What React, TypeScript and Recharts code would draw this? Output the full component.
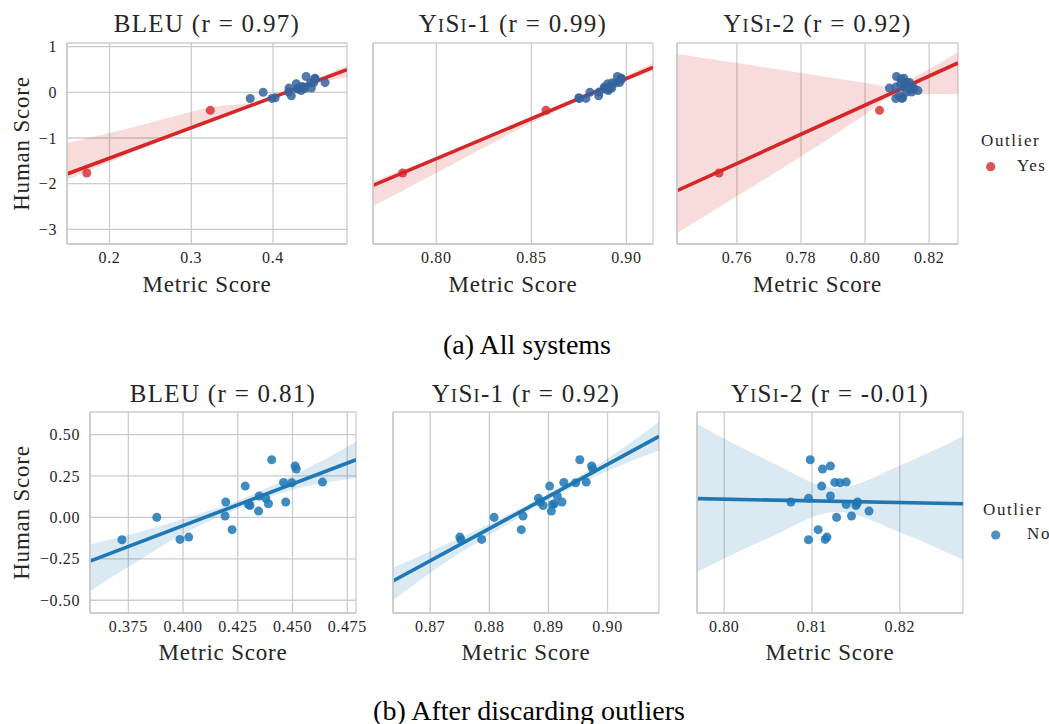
import React from 'react';
import { ComposedChart, XAxis, YAxis, CartesianGrid, Area, Line, Scatter } from 'recharts';

// ---------- data ----------
const human = [-0.135, 0.0, -0.133, -0.119, 0.008, 0.093, -0.074, 0.189, 0.078, 0.072, 0.038, 0.129, 0.115, 0.082, 0.348, 0.211, 0.093, 0.209, 0.31, 0.292, 0.213];
const bleu = [0.3721, 0.388, 0.3986, 0.4026, 0.4192, 0.4195, 0.4224, 0.4284, 0.4299, 0.4306, 0.4345, 0.4348, 0.4378, 0.439, 0.4405, 0.4459, 0.4469, 0.4497, 0.4512, 0.4517, 0.4637];
const yisi1 = [0.8752, 0.8808, 0.8787, 0.875, 0.8857, 0.8886, 0.8854, 0.8902, 0.8907, 0.8891, 0.8905, 0.8915, 0.8883, 0.891, 0.8953, 0.8926, 0.8923, 0.8946, 0.8973, 0.8975, 0.8964];
const yisi2 = [0.8096, 0.8128, 0.8115, 0.8117, 0.8145, 0.8076, 0.8107, 0.8111, 0.8139, 0.815, 0.8165, 0.8121, 0.8096, 0.8151, 0.8098, 0.8126, 0.8152, 0.8132, 0.8121, 0.8112, 0.8139];

const outlierHuman = [-1.766, -0.394];
const outlierBleu = [0.1722, 0.3233];
const outlierYisi1 = [0.7823, 0.8577];
const outlierYisi2 = [0.7544, 0.8045];

// regression fits (value at left / right edge of the axis) and confidence bands
const bandBleuAllX = [0.148, 0.2367, 0.3265, 0.3878, 0.4327, 0.4905];
const bandBleuAllLo = [-1.912, -1.255, -0.62, -0.204, 0.095, 0.336];
const bandBleuAllHi = [-1.109, -0.73, -0.321, -0.182, 0.139, 0.584];
const fitBleuAll = [-1.788, 0.496];

const bandYisi1AllX = [0.7667, 0.8, 0.85, 0.8881, 0.914];
const bandYisi1AllLo = [-2.496, -1.766, -0.672, 0.058, 0.46];
const bandYisi1AllHi = [-1.949, -1.416, -0.55, 0.131, 0.642];
const fitYisi1All = [-2.036, 0.547];

const bandYisi2AllX = [0.7413, 0.76, 0.7801, 0.8, 0.8088, 0.8171, 0.829];
const bandYisi2AllLo = [-3.08, -2.277, -1.401, -0.489, -0.088, -0.044, -0.036];
const bandYisi2AllHi = [0.839, 0.642, 0.423, 0.204, 0.117, 0.4, 0.876];
const fitYisi2All = [-2.153, 0.642];

const bandBleuX = [0.3575, 0.3773, 0.4002, 0.4261, 0.4489, 0.479];
const bandBleuLo = [-0.445, -0.28, -0.099, 0.056, 0.163, 0.239];
const bandBleuHi = [-0.163, -0.099, -0.008, 0.107, 0.243, 0.455];
const fitBleu = [-0.264, 0.348];

const bandYisi1X = [0.8637, 0.8722, 0.8807, 0.8897, 0.8987, 0.9087];
const bandYisi1Lo = [-0.501, -0.28, -0.093, 0.099, 0.26, 0.404];
const bandYisi1Hi = [-0.304, -0.169, -0.028, 0.137, 0.324, 0.575];
const fitYisi1 = [-0.384, 0.489];

const bandYisi2X = [0.7969, 0.8052, 0.8128, 0.8204, 0.8272];
const bandYisi2Lo = [-0.33, -0.121, 0.032, -0.099, -0.256];
const bandYisi2Hi = [0.565, 0.338, 0.179, 0.322, 0.489];
const fitYisi2 = [0.113, 0.082];

// ticks
const topYTicks = [-3, -2, -1, 0, 1];
const botYTicks = [-0.5, -0.25, 0, 0.25, 0.5];
const xTicksBleuAll = [0.2, 0.3, 0.4];
const xTicksYisi1All = [0.8, 0.85, 0.9];
const xTicksYisi2All = [0.76, 0.78, 0.8, 0.82];
const xTicksBleu = [0.375, 0.4, 0.425, 0.45, 0.475];
const xTicksYisi1 = [0.87, 0.88, 0.89, 0.9];
const xTicksYisi2 = [0.8, 0.81, 0.82];

// titles
const metricNames = ['BLEU', 'YiSi-1', 'YiSi-2'];
const rAll = ['0.97', '0.99', '0.92'];
const rClean = ['0.81', '0.92', '-0.01'];

// ---------- styling ----------
const FONT = '"Liberation Serif", "Times New Roman", serif';
const TEXT = '#262626';
const GRID = '#cccccc';
const BLUE = '#1f77b4';
const DARKBLUE = '#33649f';
const RED = '#d62728';

const minus = (s: string) => s.replace('-', '\u2212');

type Box = { l: number; r: number; t: number; b: number };

function Panel(props: {
  box: Box;
  xDomain: [number, number];
  yDomain: [number, number];
  xTicks: number[];
  xDec: number;
  yTicks: number[];
  yDec: number;
  showY: boolean;
  bandX: number[];
  bandLo: number[];
  bandHi: number[];
  fit: number[];
  color: string;
  pointColor: string;
  xs: number[];
  ys: number[];
  oxs?: number[];
  oys?: number[];
}) {
  const { box } = props;
  const ML = 80, MT = 10, MR = 12, XH = 50;
  const w = box.r - box.l + ML + MR;
  const h = box.b - box.t + MT + XH;
  const n = props.bandX.length;
  const rows = props.bandX.map((x, i) => ({
    x,
    range: [props.bandLo[i], props.bandHi[i]],
    fit: i === 0 ? props.fit[0] : i === n - 1 ? props.fit[1] : undefined,
  }));
  const pts = props.xs.map((x, i) => ({ x, y: props.ys[i] }));
  const opts = props.oxs ? props.oxs.map((x, i) => ({ x, y: (props.oys as number[])[i] })) : null;
  const tickStyle = { fontFamily: FONT, fontSize: 16, fill: TEXT, letterSpacing: 0.6 };
  return (
    <div style={{ position: 'absolute', left: box.l - ML, top: box.t - MT }}>
      <ComposedChart width={w} height={h} data={rows} margin={{ top: MT, right: MR, left: 0, bottom: 0 }}>
        <CartesianGrid stroke={GRID} strokeWidth={1.3} />
        <XAxis
          type="number"
          dataKey="x"
          domain={props.xDomain}
          allowDataOverflow
          ticks={props.xTicks}
          interval={0}
          tickFormatter={(v: number) => v.toFixed(props.xDec)}
          tickLine={false}
          tickSize={0}
          tickMargin={8}
          height={XH}
          axisLine={{ stroke: GRID, strokeWidth: 1.8 }}
          tick={tickStyle}
        />
        <YAxis
          type="number"
          domain={props.yDomain}
          allowDataOverflow
          ticks={props.yTicks}
          interval={0}
          tickFormatter={(v: number) => minus(v.toFixed(props.yDec))}
          tickLine={false}
          tickSize={0}
          tickMargin={10}
          width={ML}
          axisLine={{ stroke: GRID, strokeWidth: 1.8 }}
          tick={props.showY ? tickStyle : false}
        />
        <Area
          dataKey="range"
          type="monotone"
          stroke="none"
          fill={props.color}
          fillOpacity={0.16}
          isAnimationActive={false}
        />
        <Line
          dataKey="fit"
          connectNulls
          stroke={props.color}
          strokeWidth={3.6}
          dot={false}
          isAnimationActive={false}
        />
        <Scatter data={pts} dataKey="y" fill={props.pointColor} fillOpacity={0.85} isAnimationActive={false} />
        {opts && <Scatter data={opts} dataKey="y" fill={RED} fillOpacity={0.8} isAnimationActive={false} />}
      </ComposedChart>
    </div>
  );
}

function Title({ cx, y, i, r }: { cx: number; y: number; i: number; r: string }) {
  const name = metricNames[i];
  const isYisi = name.startsWith('YiSi');
  return (
    <text x={cx} y={y} textAnchor="middle" fontFamily={FONT} fontSize={25} fill={TEXT} letterSpacing={1.3}>
      {isYisi ? (
        <>
          <tspan style={{ fontVariant: 'small-caps' }}>{name.slice(0, 4)}</tspan>
          <tspan>{name.slice(4) + ' (r = ' + r + ')'}</tspan>
        </>
      ) : (
        name + ' (r = ' + r + ')'
      )}
    </text>
  );
}

export default function App() {
  const top: Box[] = [
    { l: 67, r: 347, t: 43, b: 244 },
    { l: 373, r: 653, t: 43, b: 244 },
    { l: 677, r: 958, t: 43, b: 244 },
  ];
  const bot: Box[] = [
    { l: 90, r: 356, t: 412, b: 613 },
    { l: 393, r: 659, t: 412, b: 613 },
    { l: 697, r: 963, t: 412, b: 613 },
  ];
  const topY: [number, number] = [-3.32, 1.08];
  const botY: [number, number] = [-0.577, 0.636];
  const cx = (b: Box) => (b.l + b.r) / 2;
  const labelStyle = { fontFamily: FONT, fontSize: 23, fill: TEXT, letterSpacing: 0.8 };

  return (
    <div style={{ position: 'absolute', left: 0, top: 0, width: 1049, height: 724, background: '#fff', overflow: 'hidden' }}>
      <Panel box={top[0]} xDomain={[0.148, 0.4905]} yDomain={topY} xTicks={xTicksBleuAll} xDec={1} yTicks={topYTicks} yDec={0} showY
        bandX={bandBleuAllX} bandLo={bandBleuAllLo} bandHi={bandBleuAllHi} fit={fitBleuAll} color={RED} pointColor={DARKBLUE}
        xs={bleu} ys={human} oxs={outlierBleu} oys={outlierHuman} />
      <Panel box={top[1]} xDomain={[0.7667, 0.914]} yDomain={topY} xTicks={xTicksYisi1All} xDec={2} yTicks={topYTicks} yDec={0} showY={false}
        bandX={bandYisi1AllX} bandLo={bandYisi1AllLo} bandHi={bandYisi1AllHi} fit={fitYisi1All} color={RED} pointColor={DARKBLUE}
        xs={yisi1} ys={human} oxs={outlierYisi1} oys={outlierHuman} />
      <Panel box={top[2]} xDomain={[0.7413, 0.829]} yDomain={topY} xTicks={xTicksYisi2All} xDec={2} yTicks={topYTicks} yDec={0} showY={false}
        bandX={bandYisi2AllX} bandLo={bandYisi2AllLo} bandHi={bandYisi2AllHi} fit={fitYisi2All} color={RED} pointColor={DARKBLUE}
        xs={yisi2} ys={human} oxs={outlierYisi2} oys={outlierHuman} />

      <Panel box={bot[0]} xDomain={[0.3575, 0.479]} yDomain={botY} xTicks={xTicksBleu} xDec={3} yTicks={botYTicks} yDec={2} showY
        bandX={bandBleuX} bandLo={bandBleuLo} bandHi={bandBleuHi} fit={fitBleu} color={BLUE} pointColor={BLUE}
        xs={bleu} ys={human} />
      <Panel box={bot[1]} xDomain={[0.8637, 0.9087]} yDomain={botY} xTicks={xTicksYisi1} xDec={2} yTicks={botYTicks} yDec={2} showY={false}
        bandX={bandYisi1X} bandLo={bandYisi1Lo} bandHi={bandYisi1Hi} fit={fitYisi1} color={BLUE} pointColor={BLUE}
        xs={yisi1} ys={human} />
      <Panel box={bot[2]} xDomain={[0.7969, 0.8272]} yDomain={botY} xTicks={xTicksYisi2} xDec={2} yTicks={botYTicks} yDec={2} showY={false}
        bandX={bandYisi2X} bandLo={bandYisi2Lo} bandHi={bandYisi2Hi} fit={fitYisi2} color={BLUE} pointColor={BLUE}
        xs={yisi2} ys={human} />

      <svg width={1049} height={724} style={{ position: 'absolute', left: 0, top: 0, pointerEvents: 'none' }}>
        {top.map((b, i) => (
          <Title key={'tt' + i} cx={cx(b)} y={31.5} i={i} r={rAll[i]} />
        ))}
        {bot.map((b, i) => (
          <Title key={'bt' + i} cx={cx(b)} y={401.5} i={i} r={rClean[i]} />
        ))}
        {top.map((b, i) => (
          <text key={'tx' + i} x={cx(b)} y={291.5} textAnchor="middle" {...labelStyle}>Metric Score</text>
        ))}
        {bot.map((b, i) => (
          <text key={'bx' + i} x={cx(b)} y={660} textAnchor="middle" {...labelStyle}>Metric Score</text>
        ))}
        <text transform="translate(28.5,143.5) rotate(-90)" textAnchor="middle" {...labelStyle}>Human Score</text>
        <text transform="translate(28.5,512.5) rotate(-90)" textAnchor="middle" {...labelStyle}>Human Score</text>

        <text x={527} y={353.5} textAnchor="middle" fontFamily={FONT} fontSize={28} fill="#000">(a) All systems</text>
        <text x={529} y={720} textAnchor="middle" fontFamily={FONT} fontSize={28} fill="#000">(b) After discarding outliers</text>

        <text x={981} y={146} fontFamily={FONT} fontSize={17} fill={TEXT} letterSpacing={1.6}>Outlier</text>
        <circle cx={990.7} cy={166.7} r={4.6} fill={RED} fillOpacity={0.8} />
        <text x={1017} y={171} fontFamily={FONT} fontSize={17} fill={TEXT} letterSpacing={1.6}>Yes</text>

        <text x={983} y={515} fontFamily={FONT} fontSize={17} fill={TEXT} letterSpacing={1.6}>Outlier</text>
        <circle cx={995.7} cy={535} r={4.6} fill={BLUE} fillOpacity={0.8} />
        <text x={1027} y={539} fontFamily={FONT} fontSize={17} fill={TEXT} letterSpacing={1.6}>No</text>
      </svg>
    </div>
  );
}
